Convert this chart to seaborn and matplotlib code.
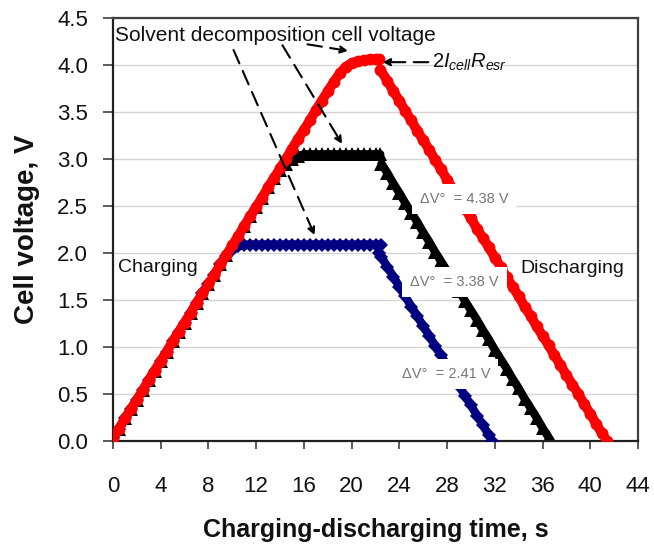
import matplotlib
matplotlib.use("Agg")
import matplotlib.pyplot as plt
import seaborn as sns
import numpy as np

# ---------------- data ----------------
# red (solvent decomposition ~4.05 V)
red_charge_t = [0, 0.5, 1, 1.5, 2, 2.5, 3, 3.5, 4, 4.5, 5, 5.5, 6, 6.5, 7, 7.5, 8, 8.5, 9, 9.5,
                10, 10.5, 11, 11.5, 12, 12.5, 13, 13.5, 14, 14.5, 15, 15.5, 16, 16.5, 17, 17.5,
                18, 18.5, 19, 19.5, 20, 20.5, 21, 21.5, 22, 22.3]
red_charge_v = [0.03, 0.13, 0.24, 0.34, 0.44, 0.54, 0.65, 0.75, 0.85, 0.95, 1.06, 1.16, 1.26, 1.36,
                1.47, 1.57, 1.67, 1.77, 1.88, 1.98, 2.08, 2.18, 2.29, 2.39, 2.49, 2.59, 2.70, 2.80,
                2.90, 3.00, 3.11, 3.21, 3.31, 3.41, 3.52, 3.62, 3.72, 3.82, 3.91, 3.98, 4.02, 4.04,
                4.05, 4.06, 4.06, 4.06]
red_dis_t = [22.4, 23, 23.5, 24, 24.5, 25, 25.5, 26, 26.5, 27, 27.5, 28, 28.5, 29, 29.5, 30, 30.5,
             31, 31.5, 32, 32.5, 33, 33.5, 34, 34.5, 35, 35.5, 36, 36.5, 37, 37.5, 38, 38.5, 39,
             39.5, 40, 40.5, 41, 41.4]
red_dis_v = [3.95, 3.83, 3.72, 3.62, 3.51, 3.41, 3.30, 3.20, 3.10, 2.99, 2.89, 2.78, 2.68, 2.58,
             2.47, 2.37, 2.26, 2.16, 2.06, 1.95, 1.85, 1.74, 1.64, 1.54, 1.43, 1.33, 1.22, 1.12,
             1.02, 0.91, 0.81, 0.70, 0.60, 0.50, 0.39, 0.29, 0.18, 0.08, 0.0]

# black (~3.05 V)
black_charge_t = [0, 0.5, 1, 1.5, 2, 2.5, 3, 3.5, 4, 4.5, 5, 5.5, 6, 6.5, 7, 7.5, 8, 8.5, 9, 9.5,
                  10, 10.5, 11, 11.5, 12, 12.5, 13, 13.5, 14, 14.5, 15, 15.5, 16, 16.5, 17, 17.5,
                  18, 18.5, 19, 19.5, 20, 20.5, 21, 21.5, 22, 22.4]
black_charge_v = [0.03, 0.13, 0.24, 0.34, 0.44, 0.54, 0.65, 0.75, 0.85, 0.95, 1.06, 1.16, 1.26, 1.36,
                  1.47, 1.57, 1.67, 1.77, 1.88, 1.98, 2.08, 2.18, 2.29, 2.39, 2.49, 2.59, 2.70, 2.80,
                  2.88, 2.95, 3.00, 3.03, 3.05, 3.05, 3.05, 3.05, 3.05, 3.05, 3.05, 3.05, 3.05, 3.05,
                  3.05, 3.05, 3.05, 3.05]
black_dis_t = [22.5, 23, 23.5, 24, 24.5, 25, 25.5, 26, 26.5, 27, 27.5, 28, 28.5, 29, 29.5, 30,
               30.5, 31, 31.5, 32, 32.5, 33, 33.5, 34, 34.5, 35, 35.5, 36, 36.5, 36.7]
black_dis_v = [2.95, 2.85, 2.74, 2.64, 2.53, 2.43, 2.33, 2.22, 2.12, 2.01, 1.91, 1.81, 1.70, 1.60,
               1.49, 1.39, 1.29, 1.18, 1.08, 0.97, 0.87, 0.77, 0.66, 0.56, 0.45, 0.35, 0.25, 0.14,
               0.04, 0.0]

# blue (~2.09 V)
blue_charge_t = [0, 0.5, 1, 1.5, 2, 2.5, 3, 3.5, 4, 4.5, 5, 5.5, 6, 6.5, 7, 7.5, 8, 8.5, 9, 9.5,
                 10, 10.5, 11, 11.5, 12, 12.5, 13, 13.5, 14, 14.5, 15, 15.5, 16, 16.5, 17, 17.5,
                 18, 18.5, 19, 19.5, 20, 20.5, 21, 21.5, 22, 22.5]
blue_charge_v = [0.03, 0.13, 0.24, 0.34, 0.44, 0.54, 0.65, 0.75, 0.85, 0.95, 1.06, 1.16, 1.26, 1.36,
                 1.47, 1.57, 1.67, 1.77, 1.88, 1.97, 2.03, 2.07, 2.085, 2.09, 2.09, 2.09, 2.09, 2.09,
                 2.09, 2.09, 2.09, 2.09, 2.09, 2.09, 2.09, 2.09, 2.09, 2.09, 2.09, 2.09, 2.09, 2.09,
                 2.09, 2.09, 2.09, 2.09]
blue_dis_t = [22.3, 22.5, 23, 23.5, 24, 24.5, 25, 25.5, 26, 26.5, 27, 27.5, 28, 28.5, 29, 29.5,
              30, 30.5, 31, 31.5, 31.8]
blue_dis_v = [2.00, 1.96, 1.85, 1.75, 1.64, 1.54, 1.43, 1.33, 1.22, 1.12, 1.01, 0.91, 0.80, 0.69,
              0.59, 0.48, 0.38, 0.27, 0.17, 0.06, 0.0]

x_ticks = [0, 4, 8, 12, 16, 20, 24, 28, 32, 36, 40, 44]
y_ticks = [0.0, 0.5, 1.0, 1.5, 2.0, 2.5, 3.0, 3.5, 4.0, 4.5]
dv_labels = ["\u0394V\u00b0  = 4.38 V", "\u0394V\u00b0  = 3.38 V", "\u0394V\u00b0  = 2.41 V"]

# ---------------- style ----------------
sns.set_theme(style="white")
plt.rcParams['font.family'] = ['Liberation Sans', 'DejaVu Sans']
plt.rcParams['mathtext.fontset'] = 'custom'
plt.rcParams['mathtext.it'] = 'Liberation Sans:italic'
plt.rcParams['mathtext.rm'] = 'Liberation Sans'

fig = plt.figure(figsize=(6.54, 5.47), dpi=100)
ax = fig.add_axes([113/654, 1-441/547, (638-113)/654, (441-18)/547])

RED = "#ff0000"
BLACK = "#000000"
BLUE = "#000080"

def draw(t, v, color, marker, ms, lw, z):
    sns.lineplot(x=t, y=v, ax=ax, color=color, marker=marker, markersize=ms,
                 markeredgewidth=0, linewidth=lw, estimator=None, sort=False,
                 zorder=z, legend=False)

draw(black_charge_t, black_charge_v, BLACK, "^", 9.5, 6.0, 2)
draw(black_dis_t, black_dis_v, BLACK, "^", 9.5, 6.0, 2)
draw(blue_charge_t, blue_charge_v, BLUE, "D", 7.0, 6.0, 3)
draw(blue_dis_t, blue_dis_v, BLUE, "D", 7.0, 6.0, 3)
draw(red_charge_t, red_charge_v, RED, "o", 8.5, 7.0, 4)
draw(red_dis_t, red_dis_v, RED, "o", 8.5, 7.0, 4)

ax.set_xlim(0, 44)
ax.set_ylim(0, 4.5)
ax.set_xticks(x_ticks)
ax.set_xticklabels([str(x) for x in x_ticks])
ax.set_yticks(y_ticks)
ax.set_yticklabels([f"{y:.1f}" for y in y_ticks])
ax.yaxis.grid(True, color="#d4d4d4", linewidth=1.0, zorder=0)
ax.set_axisbelow(True)
for s in ax.spines.values():
    s.set_visible(True)
    s.set_color("#404040")
    s.set_linewidth(1.6)
ax.spines['left'].set_color("#202020")
ax.spines['bottom'].set_color("#202020")
ax.tick_params(axis='x', direction='out', length=6, width=1.2, color="#404040",
               labelsize=16, pad=19, bottom=True, labelcolor="#111111")
ax.tick_params(axis='y', direction='out', length=7, width=1.2, color="#404040",
               labelsize=16, pad=11, left=True, labelcolor="#111111")

ax.set_xlabel("Charging-discharging time, s", fontsize=18, fontweight='bold', labelpad=15,
              color="#111111")
ax.set_ylabel("Cell voltage, V", fontsize=20, fontweight='bold', labelpad=12, color="#111111")

# ---------------- annotations ----------------
ax.text(0.2, 4.31, "Solvent decomposition cell voltage", fontsize=15, ha='left', va='center',
        zorder=6, color="#111111")
arrow_kw = dict(arrowstyle='-|>', linestyle=(0, (7, 4)), color='black', lw=1.5,
                mutation_scale=11, shrinkA=0, shrinkB=0)
ax.annotate("", xy=(19.7, 4.15), xytext=(16.3, 4.22), arrowprops=arrow_kw, zorder=6)
ax.annotate("", xy=(19.2, 3.16), xytext=(14.2, 4.21), arrowprops=arrow_kw, zorder=6)
ax.annotate("", xy=(16.9, 2.19), xytext=(10.1, 4.16), arrowprops=arrow_kw, zorder=6)

ax.annotate(r"$\mathit{2I_{cell}R_{esr}}$", xy=(22.6, 4.03), xytext=(26.7, 4.03),
            fontsize=14.5, ha='left', va='center', arrowprops=arrow_kw, zorder=6,
            color="#111111")

ax.text(0.4, 1.85, "Charging", fontsize=14, ha='left', va='center', zorder=6, color="#111111")
ax.text(34.1, 1.83, "Discharging", fontsize=14, ha='left', va='center', zorder=6,
        color="#111111")

bbox = dict(boxstyle='square,pad=0.55', facecolor='white', edgecolor='none')
ax.text(25.7, 2.57, dv_labels[0], fontsize=10.5, color="#777777", ha='left', va='center',
        bbox=bbox, zorder=7)
ax.text(24.9, 1.69, dv_labels[1], fontsize=10.5, color="#777777", ha='left', va='center',
        bbox=bbox, zorder=7)
ax.text(24.2, 0.71, dv_labels[2], fontsize=10.5, color="#777777", ha='left', va='center',
        bbox=bbox, zorder=7)

fig.savefig("out.png", dpi=100)
